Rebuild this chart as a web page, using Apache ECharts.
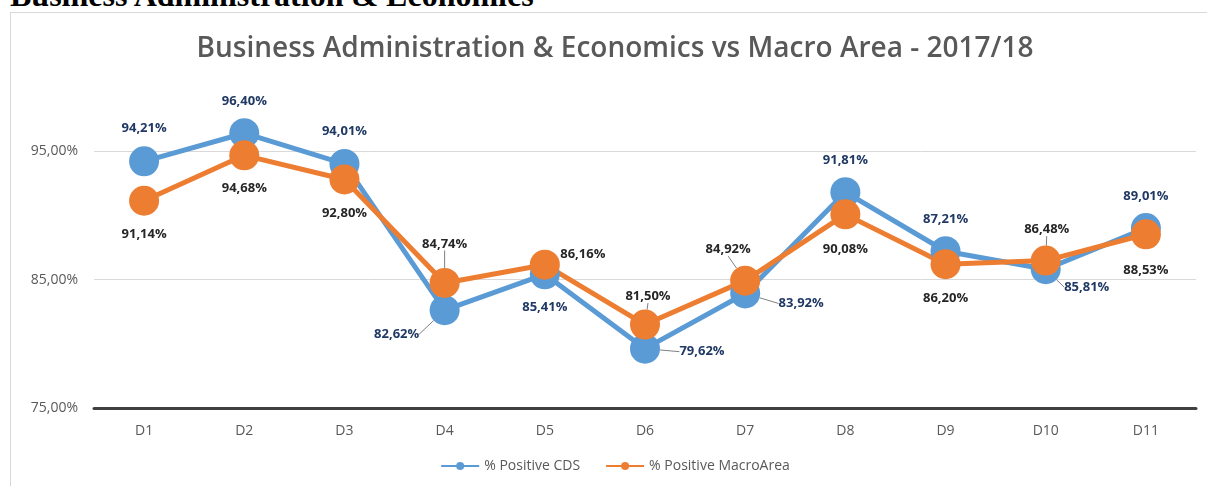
<!DOCTYPE html>
<html>
<head>
<meta charset="utf-8">
<script src="https://cdn.jsdelivr.net/npm/echarts@6/dist/echarts.min.js"></script>
<style>
	html, body { margin: 0; padding: 0; width: 1207px; height: 486px; overflow: hidden; background: #fff; }
	#heading {
		position: absolute; left: 10px; top: -21px; margin: 0;
		font: bold 32px 'Liberation Serif', serif; line-height: 32px; color: #000; white-space: nowrap; z-index: 2;
	}
	#frame {
		position: absolute; left: 10px; top: 12px; width: 1210px; height: 490px;
		border: 1px solid #d9d9d9; box-sizing: border-box;
	}
	#main { position: absolute; left: 0; top: 0; width: 1208px; height: 488px; }
</style>
</head>
<body>
<div id="heading">Business Administration &amp; Economics</div>
<div id="frame"><div id="main"></div></div>
<script>
// data
const categories = ['D1', 'D2', 'D3', 'D4', 'D5', 'D6', 'D7', 'D8', 'D9', 'D10', 'D11'];
const cdsValues = [94.21, 96.40, 94.01, 82.62, 85.41, 79.62, 83.92, 91.81, 87.21, 85.81, 89.01];
const macroValues = [91.14, 94.68, 92.80, 84.74, 86.16, 81.50, 84.92, 90.08, 86.20, 86.48, 88.53];

// label placement (pixel offset of label centre from marker centre) and leader lines
const cdsLabelPos = [[0, -33], [0, -32], [0, -33], [-48, 24], [0, 33], [57, 3], [56, 10], [0, -32], [0, -32], [41, 18], [0, -32]];
const cdsLeader = [false, false, false, true, false, true, true, false, false, true, false];
const macroLabelPos = [[0, 34], [0, 33], [0, 34], [0, -39], [38, -10], [3, -28], [-17, -31], [0, 35], [0, 34], [1, -31], [0, 36]];
const macroLeader = [false, false, false, true, false, true, true, false, false, true, false];

const fmt = (v) => v.toFixed(2).replace('.', ',') + '%';

function buildData(values, leader) {
	return values.map((v, i) => {
		return { value: v, labelLine: { show: leader[i] } };
	});
}

function layoutFrom(pos) {
	return function (params) {
		const o = pos[params.dataIndex];
		return {
			x: params.rect.x + params.rect.width / 2 + o[0],
			y: params.rect.y + params.rect.height / 2 + o[1],
			align: 'center',
			verticalAlign: 'middle'
		};
	};
}

const myChart = echarts.init(document.getElementById('main'));

const option = {
	animation: false,
	textStyle: { fontFamily: 'Open Sans' },
	title: {
		left: 'center',
		top: 22,
		padding: 0,
		text: 'Business Administration & Economics vs Macro Area - 2017/18',
		textStyle: { fontFamily: 'Open Sans', fontWeight: 600, fontSize: 28, color: '#595959' }
	},
	legend: {
		left: 'center',
		top: 446,
		padding: 0,
		itemGap: 25,
		itemWidth: 38,
		itemHeight: 10,
		textStyle: { fontFamily: 'Open Sans', fontSize: 14, color: '#595959' },
		data: ['% Positive CDS', '% Positive MacroArea']
	},
	grid: { left: 83, right: 23, top: 74, bottom: 93 },
	xAxis: {
		type: 'category',
		data: categories,
		axisLine: { lineStyle: { color: '#404040', width: 3 } },
		axisTick: { show: false },
		axisLabel: { color: '#595959', fontSize: 14, margin: 16, fontFamily: 'Open Sans' }
	},
	yAxis: {
		type: 'value',
		min: 75,
		max: 100,
		interval: 10,
		axisLine: { show: false },
		axisTick: { show: false },
		axisLabel: {
			color: '#595959',
			fontSize: 14,
			margin: 16,
			fontFamily: 'Open Sans',
			formatter: (v) => (v === 100 ? '' : fmt(v))
		},
		splitLine: {
			showMaxLine: false,
			lineStyle: { color: ['#d9d9d9', '#d9d9d9', '#d9d9d9', 'rgba(0,0,0,0)'], width: 1 }
		}
	},
	series: [
		{
			name: '% Positive CDS',
			type: 'line',
			data: buildData(cdsValues, cdsLeader),
			symbol: 'circle',
			symbolSize: 30,
			clip: false,
			itemStyle: { color: '#5b9bd5' },
			lineStyle: { color: '#5b9bd5', width: 5 },
			label: {
				show: true,
				color: '#1f3864',
				fontWeight: 'bold',
				fontSize: 13,
				fontFamily: 'Open Sans',
				formatter: (p) => fmt(p.value)
			},
			labelLine: { show: false, lineStyle: { color: '#7f7f7f', width: 1 } },
			labelLayout: layoutFrom(cdsLabelPos)
		},
		{
			name: '% Positive MacroArea',
			type: 'line',
			data: buildData(macroValues, macroLeader),
			symbol: 'circle',
			symbolSize: 30,
			clip: false,
			itemStyle: { color: '#ed7d31' },
			lineStyle: { color: '#ed7d31', width: 5 },
			label: {
				show: true,
				color: '#262626',
				fontWeight: 'bold',
				fontSize: 13,
				fontFamily: 'Open Sans',
				formatter: (p) => fmt(p.value)
			},
			labelLine: { show: false, lineStyle: { color: '#7f7f7f', width: 1 } },
			labelLayout: layoutFrom(macroLabelPos)
		}
	]
};

myChart.setOption(option);
</script>
</body>
</html>
